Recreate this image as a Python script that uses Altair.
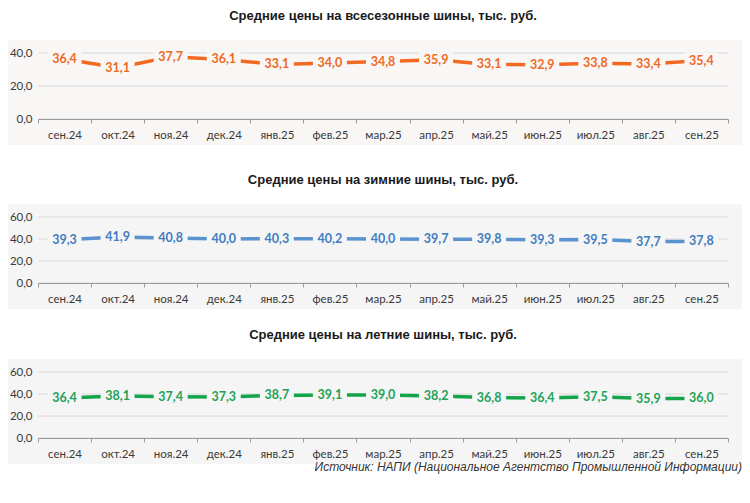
import altair as alt
import pandas as pd

months = ["сен.24", "окт.24", "ноя.24", "дек.24", "янв.25", "фев.25", "мар.25",
          "апр.25", "май.25", "июн.25", "июл.25", "авг.25", "сен.25"]
allseason = [36.4, 31.1, 37.7, 36.1, 33.1, 34.0, 34.8, 35.9, 33.1, 32.9, 33.8, 33.4, 35.4]
winter = [39.3, 41.9, 40.8, 40.0, 40.3, 40.2, 40.0, 39.7, 39.8, 39.3, 39.5, 37.7, 37.8]
summer = [36.4, 38.1, 37.4, 37.3, 38.7, 39.1, 39.0, 38.2, 36.8, 36.4, 37.5, 35.9, 36.0]

titles = ["Средние цены на всесезонные шины, тыс. руб.",
          "Средние цены на зимние шины, тыс. руб.",
          "Средние цены на летние шины, тыс. руб."]
y_max = [40, 60, 60]
grid_vals = [[0, 20, 40], [0, 20, 40, 60], [0, 20, 40, 60]]
line_colors = ["#f26a21", "#5b93d0", "#14a54c"]
label_colors = ["#ee6a24", "#3f7dc0", "#1ea257"]
bg_colors = ["#f9f6f6", "#f5f5f5", "#f5f5f5"]
source = "Источник: НАПИ (Национальное Агентство Промышленной Информации)"

W, H = 690, 66
FMT = "replace(format(datum.value, '.1f'), '.', ',')"


def panel(values, title, ymax, ticks, lc, tc, bg):
    df = pd.DataFrame({
        "month": months,
        "value": values,
        "label": [f"{v:.1f}".replace(".", ",") for v in values],
    })
    x = alt.X("month:N", sort=months,
              scale=alt.Scale(type="band", paddingInner=0, paddingOuter=0),
              axis=alt.Axis(title=None, labelAngle=0, tickBand="extent",
                            domainColor="#9a9a9a", tickColor="#9a9a9a", tickSize=4,
                            labelFont="Lato", labelFontSize=11.5, labelColor="#3a3a3a",
                            labelPadding=6, zindex=1))
    yaxis = alt.Axis(title=None, values=ticks, grid=False, domain=False,
                     ticks=False, labelExpr=FMT, labelFont="Lato",
                     labelFontSize=11.5, labelColor="#3a3a3a", labelOverlap=False,
                     labelPadding=6, zindex=1)
    yscale = alt.Scale(domain=[0, ymax], nice=False, zero=True)
    y = alt.Y("value:Q", scale=yscale, axis=yaxis)
    bgrect = alt.Chart(alt.Data(values=[{"a": 1}])).mark_rect(color=bg).encode(
        x=alt.value(-30), x2=alt.value(W + 14), y=alt.value(-13), y2=alt.value(H + 26))
    grid = alt.Chart(pd.DataFrame({"value": ticks})).mark_rule(
        color="#d8d8d8", strokeWidth=1).encode(y=y)
    base = alt.Chart(df)
    line = base.mark_line(color=lc, strokeWidth=3.5, strokeCap="butt").encode(x=x, y=y)
    mask = base.mark_tick(orient="horizontal", size=34, thickness=16,
                          color=bg, opacity=1).encode(x=x, y=y)
    text = base.mark_text(font="Lato", fontWeight="bold", fontSize=12.5,
                          color=tc, baseline="middle").encode(x=x, y=y, text="label:N")
    return alt.layer(bgrect, grid, line, mask, text).properties(
        width=W, height=H,
        title=alt.TitleParams(title, font="Liberation Sans", fontSize=13,
                              fontWeight="bold", color="#1a1a1a", offset=17,
                              anchor="middle"))


charts = [panel(v, t, m, g, lc, tc, bg) for v, t, m, g, lc, tc, bg in
          zip([allseason, winter, summer], titles, y_max, grid_vals,
              line_colors, label_colors, bg_colors)]

lower = alt.vconcat(charts[1], charts[2], spacing=20)
chart = alt.vconcat(charts[0], lower, spacing=29).properties(
    padding={"left": 0, "top": 2, "right": 0, "bottom": 2},
    title=alt.TitleParams(source, orient="bottom", anchor="end", font="Liberation Sans",
                          fontSize=12, fontStyle="italic", fontWeight="normal",
                          color="#333333", offset=-2),
).configure_view(stroke=None)

chart.save("out.html", embed_options={"renderer": "svg", "actions": False})
